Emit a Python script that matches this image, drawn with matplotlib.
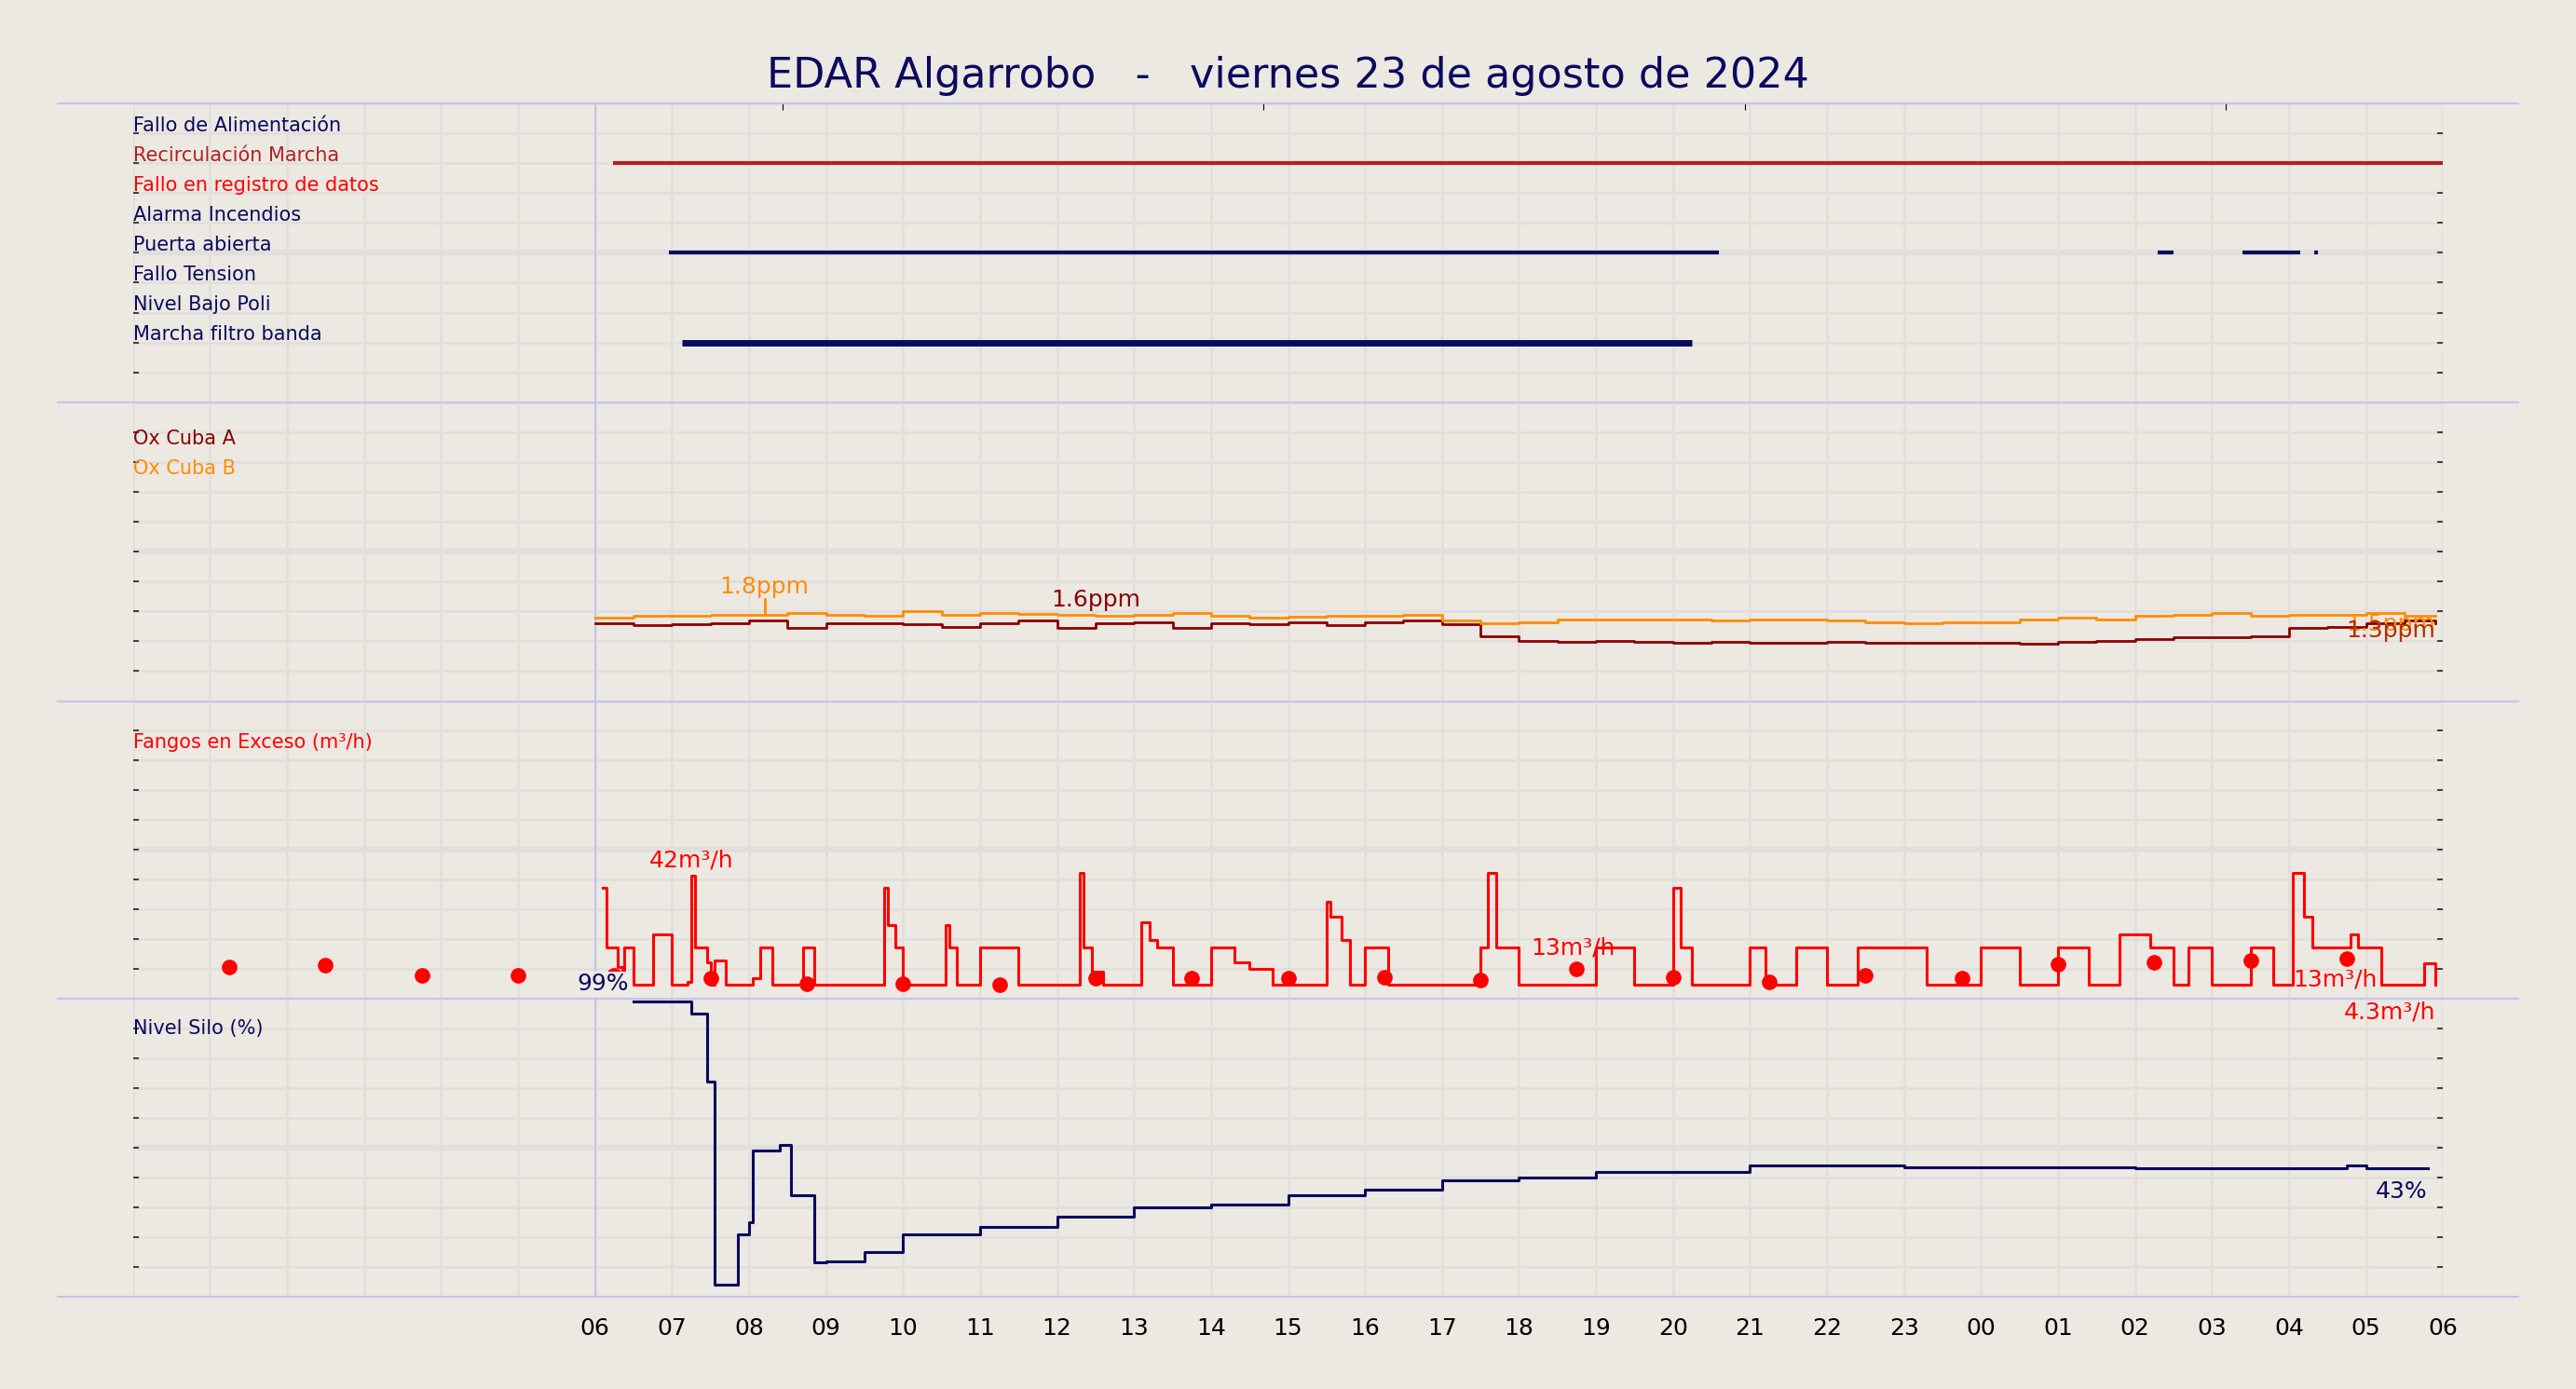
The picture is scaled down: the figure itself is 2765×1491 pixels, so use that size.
import matplotlib
matplotlib.use("Agg")
import matplotlib.pyplot as plt
import numpy as np
from matplotlib.lines import Line2D

BG = "#ece8e2"
GRID = "#e2dedc"
SEP = "#c4c4ee"
NAVY = "#0a0a5e"

# ---------------- data (hours since 06:00) ----------------
signal_labels = ["Fallo de Alimentación", "Recirculación Marcha", "Fallo en registro de datos",
                 "Alarma Incendios", "Puerta abierta", "Fallo Tension", "Nivel Bajo Poli", "Marcha filtro banda"]
signal_colors = [NAVY, "#b22222", "red", NAVY, NAVY, NAVY, NAVY, NAVY]
# (row index, start, end)
signal_on = [(1, 0.23, 24.0), (4, 0.96, 14.6), (4, 20.3, 20.5), (4, 21.4, 22.15), (4, 22.33, 22.38), (7, 1.13, 14.24)]

ox_t = [0, 0.5, 1.0, 1.5, 2.0, 2.5, 3.0, 3.5, 4.0, 4.5, 5.0, 5.5, 6.0, 6.5, 7.0, 7.5, 8.0, 8.5, 9.0, 9.5,
        10.0, 10.5, 11.0, 11.5, 12.0, 12.5, 13.0, 13.5, 14.0, 14.5, 15.0, 15.5, 16.0, 16.5, 17.0, 17.5,
        18.0, 18.5, 19.0, 19.5, 20.0, 20.5, 21.0, 21.5, 22.0, 22.5, 23.0, 23.5, 23.9]
ox_a = [1.56, 1.54, 1.55, 1.57, 1.6, 1.5, 1.57, 1.56, 1.55, 1.52, 1.56, 1.6, 1.5, 1.56, 1.58, 1.5, 1.56, 1.55, 1.58, 1.54,
        1.58, 1.6, 1.55, 1.4, 1.34, 1.32, 1.33, 1.32, 1.31, 1.32, 1.31, 1.31, 1.32, 1.31, 1.31, 1.31,
        1.31, 1.3, 1.32, 1.34, 1.36, 1.38, 1.38, 1.4, 1.5, 1.52, 1.56, 1.6, 1.56]
ox_b = [1.64, 1.66, 1.66, 1.67, 1.68, 1.7, 1.67, 1.66, 1.72, 1.68, 1.7, 1.69, 1.68, 1.66, 1.68, 1.7, 1.66, 1.64, 1.65, 1.66,
        1.66, 1.68, 1.6, 1.56, 1.58, 1.62, 1.62, 1.61, 1.62, 1.6, 1.62, 1.62, 1.6, 1.58, 1.56, 1.58,
        1.58, 1.62, 1.64, 1.62, 1.66, 1.68, 1.7, 1.66, 1.68, 1.67, 1.7, 1.66, 1.66]

fg_t = [0.1, 0.15, 0.3, 0.35, 0.38, 0.5, 0.75, 1.0, 1.2, 1.25, 1.3, 1.45, 1.5, 1.55, 1.7, 2.05, 2.15, 2.3,
        2.7, 2.85, 2.95, 3.3, 3.75, 3.8, 3.9, 4.0, 4.55, 4.6, 4.7, 5.0, 5.5, 6.3, 6.35, 6.45, 6.6,
        7.1, 7.2, 7.3, 7.5, 8.0, 8.3, 8.5, 8.8, 9.0, 9.5, 9.55, 9.7, 9.8, 10.0, 10.3, 10.5, 10.9, 11.5,
        11.6, 11.7, 12.0, 12.3, 12.6, 13.0, 13.5, 14.0, 14.1, 14.25, 14.4, 15.0, 15.2, 15.6, 16.0, 16.4,
        17.3, 17.8, 18.0, 18.5, 19.0, 19.4, 19.8, 20.2, 20.5, 20.7, 21.0, 21.5, 21.8, 22.0, 22.05, 22.2, 22.3, 22.8, 22.9, 23.2, 23.6, 23.75, 23.9]
fg_v = [38, 17.5, 10.7, 4.5, 17.5, 4.5, 22, 4.5, 5.6, 42, 17.5, 12.4, 4.5, 13, 4.5, 7, 17.5, 4.5,
        17.5, 4.5, 4.5, 4.5, 38, 25, 17.5, 4.5, 25, 17.5, 4.5, 17.5, 4.5, 43, 17.5, 9, 4.5,
        26, 20, 17.5, 4.5, 17.5, 12.4, 10, 4.5, 4.5, 33, 28, 20, 4.5, 17.5, 4.5, 4.5, 4.5, 17.5,
        43, 17.5, 4.5, 4.5, 4.5, 17.5, 4.5, 38, 17.5, 4.5, 4.5, 17.5, 4.5, 17.5, 4.5, 17.5,
        4.5, 4.5, 17.5, 4.5, 17.5, 4.5, 22, 17.5, 4.5, 17.5, 4.5, 17.5, 4.5, 4.5, 43, 28, 17.5, 22, 17.5, 4.5, 4.5, 12, 4.5]
dot_t = [-4.75, -3.5, -2.25, -1.0, 0.25, 1.5, 2.75, 4.0, 5.25, 6.5, 7.75, 9.0, 10.25, 11.5, 12.75, 14.0,
         15.25, 16.5, 17.75, 19.0, 20.25, 21.5, 22.75]
dot_v = [10.7, 11.3, 7.9, 7.9, 8.0, 6.8, 5.1, 5.1, 4.5, 6.8, 6.8, 6.8, 7.3, 6.2, 10.0, 7.3, 5.6, 7.9, 6.8,
         11.8, 12.4, 12.9, 13.5]

silo_t = [0.5, 1.25, 1.45, 1.55, 1.85, 2.0, 2.05, 2.4, 2.55, 2.85, 3.0, 3.5, 4.0, 5.0, 6.0, 7.0, 8.0, 9.0, 10.0,
          11.0, 12.0, 13.0, 14.0, 15.0, 16.0, 17.0, 18.0, 19.0, 20.0, 21.0, 22.0, 22.75, 23.0, 23.8]
silo_v = [99, 95, 72, 4, 21, 25, 49, 51, 34, 11.5, 12, 15, 21, 23.6, 27, 30, 31, 34, 36, 39, 40, 42, 42,
          44, 44, 43.5, 43.5, 43.5, 43, 43, 43, 44, 43, 43]

hour_labels = ["06", "07", "08", "09", "10", "11", "12", "13", "14", "15", "16", "17", "18", "19", "20",
               "21", "22", "23", "00", "01", "02", "03", "04", "05", "06"]

# ---------------- figure ----------------
fig = plt.figure(figsize=(27.65, 14.91), dpi=100, facecolor=BG)
L, W = 81 / 1568, (1487 - 81) / 1568
tops = [63, 245, 427, 608, 790]
axes = []
ylims = [(10, 0), (0.55, 4.45), (0, 102), (0, 100)]
for i in range(4):
    b = 1 - tops[i + 1] / 846
    h = (tops[i + 1] - tops[i]) / 846
    ax = fig.add_axes([L, b, W, h], facecolor=BG)
    ax.set_xlim(-6, 24)
    ax.set_ylim(*ylims[i])
    lo, hi = ylims[i]
    yt = np.linspace(min(lo, hi), max(lo, hi), 11)
    ax.set_yticks(yt)
    ax.set_yticklabels([])
    for k, y in enumerate(yt):
        ax.axhline(y, color=GRID, lw=4.5 if k == 5 else 2, zorder=0)
    for x in range(-6, 25):
        ax.axvline(x, color=GRID, lw=2, zorder=0)
    ax.axvline(0, color=SEP, lw=1.5, zorder=1)
    for s in ax.spines.values():
        s.set_visible(False)
    ax.tick_params(axis="y", which="both", left=True, right=True, length=4, width=1.2, direction="in", color="#222")
    ax.tick_params(axis="x", which="both", bottom=False, top=False, labelbottom=False)
    axes.append(ax)

fs = 15
ann = 18
# panel 1
ax = axes[0]
for k, (lab, c) in enumerate(zip(signal_labels, signal_colors)):
    ax.text(-6, k + 0.92, lab, color=c, fontsize=fs, va="baseline", ha="left")
for row, s, e in signal_on:
    ax.plot([s, e], [row + 1, row + 1], color=signal_colors[row], lw=5 if row == 7 else 3, solid_capstyle="butt")
ax.set_xticks([2.43, 8.68, 14.93, 21.18])
ax.tick_params(axis="x", top=True, bottom=False, length=5, direction="in", labeltop=False)

# panel 2
ax = axes[1]
ax.text(-6, 3.9, "Ox Cuba A", color="#8b0000", fontsize=fs, va="baseline")
ax.text(-6, 3.51, "Ox Cuba B", color="#ff8c00", fontsize=fs, va="baseline")
ax.step(ox_t, ox_a, where="post", color="#8b0000", lw=2)
ax.step(ox_t, ox_b, where="post", color="#ff8c00", lw=2)
ax.plot([2.2, 2.2], [1.68, 1.88], color="#ff8c00", lw=2)
ax.text(2.2, 1.9, "1.8ppm", color="#ff8c00", fontsize=ann, ha="center", va="bottom")
ax.text(6.5, 1.72, "1.6ppm", color="#8b0000", fontsize=ann, ha="center", va="bottom")
ax.text(23.9, 1.55, "1.5ppm", color="#ff8c00", fontsize=ann, ha="right", va="center")
ax.text(23.9, 1.47, "1.3ppm", color="#b03000", fontsize=ann, ha="right", va="center")

# panel 3
ax = axes[2]
ax.text(-6, 86, "Fangos en Exceso (m³/h)", color="red", fontsize=fs, va="baseline")
ax.step(fg_t, fg_v, where="post", color="red", lw=2.2)
ax.plot(dot_t, dot_v, "o", color="red", ms=11, ls="none")
ax.text(1.25, 43.5, "42m³/h", color="red", fontsize=ann, ha="center", va="bottom")
ax.text(12.7, 13.5, "13m³/h", color="red", fontsize=ann, ha="center", va="bottom")
ax.text(22.6, 6.5, "13m³/h", color="red", fontsize=ann, ha="center", va="center")

# panel 4
ax = axes[3]
ax.text(-6, 88, "Nivel Silo (%)", color=NAVY, fontsize=fs, va="baseline")
ax.step(silo_t, silo_v, where="post", color=NAVY, lw=2.2)
ax.text(0.1, 101, "99%", color=NAVY, fontsize=ann, ha="center", va="bottom", clip_on=False,
        bbox=dict(facecolor="#eeeae4", edgecolor="none", pad=1))
ax.text(23.9, 99, "4.3m³/h", color="red", fontsize=ann, ha="right", va="top")
ax.text(23.8, 39, "43%", color=NAVY, fontsize=ann, ha="right", va="top")
ax.set_xticks(np.arange(0, 25, 1))
ax.set_xticklabels(hour_labels)
ax.tick_params(axis="x", which="major", labelbottom=True, bottom=False, labelsize=18, pad=12)

# separators
for t in tops:
    y = 1 - t / 846
    fig.add_artist(Line2D([35 / 1568, 1533 / 1568], [y, y], color=SEP, lw=1.5))

fig.text(0.5, 1 - 46 / 846, "EDAR Algarrobo   -   viernes 23 de agosto de 2024", color=NAVY,
         fontsize=32, ha="center", va="center")

fig.savefig("out.png", dpi=100, facecolor=BG)
